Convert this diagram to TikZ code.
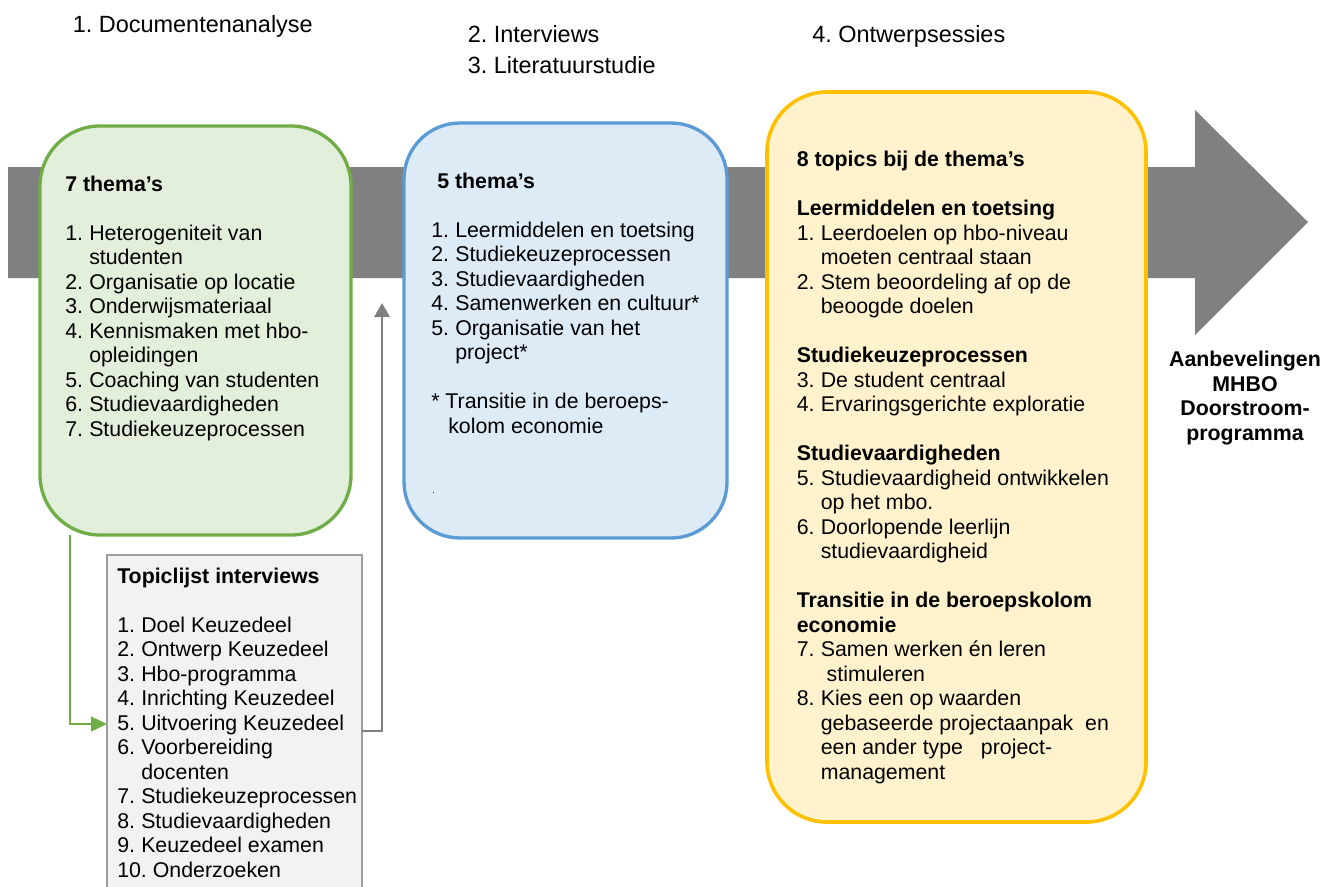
\documentclass[tikz,border=0pt]{standalone}
\usepackage{fontspec}
\setmainfont{Liberation Sans}
\usetikzlibrary{arrows.meta}
\definecolor{grn}{HTML}{70AD47}
\definecolor{grnfill}{HTML}{E2EFDA}
\definecolor{blu}{HTML}{5B9BD5}
\definecolor{blufill}{HTML}{DDEBF7}
\definecolor{ylw}{HTML}{FFC000}
\definecolor{ylwfill}{HTML}{FFF2CC}
\definecolor{arrgray}{HTML}{808080}
\definecolor{topfill}{HTML}{F2F2F2}
\definecolor{topline}{HTML}{9C9C9C}
\newcommand{\nr}[1]{\makebox[18pt][l]{#1}}
\frenchspacing
\begin{document}
\begin{tikzpicture}[x=0.75pt,y=-0.75pt,
  bodyfont/.style={font=\fontsize{16}{18.375}\selectfont},
  txt/.style={anchor=base west, inner sep=0pt, bodyfont},
  toplabel/.style={anchor=base west, inner sep=0pt, font=\fontsize{17.6}{20}\selectfont},
  panel/.style={rectangle, inner sep=0pt, outer sep=0pt},
  conn/.style={line width=1.9pt}]
\useasboundingbox (0,0) rectangle (1333,886);
\clip (0,0) rectangle (1333,886);
\fill[white] (0,0) rectangle (1333,886);

% big process arrow
\fill[arrgray] (8,167) -- (1195,167) -- (1195,110) -- (1308,222) -- (1195,335) -- (1195,278) -- (8,278) -- cycle;

% panels
\node[panel, draw=grn, fill=grnfill, line width=2.5pt, rounded corners=45pt,
      minimum width=233.25pt, minimum height=306.75pt] (green) at (195.5,330.5) {};
\node[panel, draw=blu, fill=blufill, line width=2.5pt, rounded corners=42pt,
      minimum width=242.25pt, minimum height=311.25pt] (blue) at (565.5,330.5) {};
\node[panel, draw=ylw, fill=ylwfill, line width=2.7pt, rounded corners=45pt,
      minimum width=284.25pt, minimum height=547.5pt] (yellow) at (956.5,457) {};
\node[panel, draw=topline, fill=topfill, line width=1.4pt,
      minimum width=191.25pt, minimum height=258.75pt] (topic) at (234.5,727.5) {};

% connectors
\coordinate (gx) at (70,0);
\coordinate (gy) at (0,724);
\coordinate (hy) at (0,731);
\coordinate (gtip) at (382,303);
\draw[grn, conn, -{Triangle[length=12pt,width=11pt]}] (green.south -| gx) |- (topic.west |- gy);
\draw[arrgray, conn, -{Triangle[length=10.5pt,width=11.5pt]}] (topic.east |- hy) -| (gtip);

% top labels
\node[toplabel] (l1) at (72.5,32) {1. Documentenanalyse};
\node[toplabel] (l2) at (467.5,42.7) {2. Interviews};
\node[toplabel] (l3) at (467.5,73.3) {3. Literatuurstudie};
\node[toplabel] (l4) at (812,42.7) {4. Ontwerpsessies};

% green text
\node[txt] (gtxt) at (65,191) {\parbox[t]{400pt}{%
\textbf{7 thema’s}\\
\mbox{}\\
\nr{1.}Heterogeniteit van\\
\nr{}studenten\\
\nr{2.}Organisatie op locatie\\
\nr{3.}Onderwijsmateriaal\\
\nr{4.}Kennismaken met hbo-\\
\nr{}opleidingen\\
\nr{5.}Coaching van studenten\\
\nr{6.}Studievaardigheden\\
\nr{7.}Studiekeuzeprocessen}};

% blue text
\node[txt] (btxt) at (431,188.3) {\parbox[t]{400pt}{%
\hspace*{4.5pt}\textbf{5 thema’s}\\
\mbox{}\\
\nr{1.}Leermiddelen en toetsing\\
\nr{2.}Studiekeuzeprocessen\\
\nr{3.}Studievaardigheden\\
\nr{4.}Samenwerken en cultuur*\\
\nr{5.}Organisatie van het\\
\nr{}project*\\
\mbox{}\\
\mbox{*} Transitie in de beroeps-\\
\hspace*{12.75pt}kolom economie}};
\node[anchor=base west, inner sep=0pt, font=\fontsize{7}{8}\selectfont] (bdot) at (432,493) {.};

% yellow text
\node[txt] (ytxt) at (796.5,166.5) {\parbox[t]{400pt}{%
\textbf{8 topics bij de thema’s}\\
\mbox{}\\
\textbf{Leermiddelen en toetsing}\\
\nr{1.}Leerdoelen op hbo-niveau\\
\nr{}moeten centraal staan\\
\nr{2.}Stem beoordeling af op de\\
\nr{}beoogde doelen\\
\mbox{}\\
\textbf{Studiekeuzeprocessen}\\
\nr{3.}De student centraal\\
\nr{4.}Ervaringsgerichte exploratie\\
\mbox{}\\
\textbf{Studievaardigheden}\\
\nr{5.}Studievaardigheid ontwikkelen\\
\nr{}op het mbo.\\
\nr{6.}Doorlopende leerlijn\\
\nr{}studievaardigheid\\
\mbox{}\\
\textbf{Transitie in de beroepskolom}\\
\textbf{economie}\\
\nr{7.}Samen werken én leren\\
\nr{}\ stimuleren\\
\nr{8.}Kies een op waarden\\
\nr{}gebaseerde projectaanpak\ \ en\\
\nr{}een ander type\hspace{9pt}\ project-\\
\nr{}management}};

% topic list text
\node[txt] (ttxt) at (117,583) {\parbox[t]{400pt}{%
\textbf{Topiclijst interviews}\\
\mbox{}\\
\nr{1.}Doel Keuzedeel\\
\nr{2.}Ontwerp Keuzedeel\\
\nr{3.}Hbo-programma\\
\nr{4.}Inrichting Keuzedeel\\
\nr{5.}Uitvoering Keuzedeel\\
\nr{6.}Voorbereiding\\
\nr{}docenten\\
\nr{7.}Studiekeuzeprocessen\\
\nr{8.}Studievaardigheden\\
\nr{9.}Keuzedeel examen\\
10. Onderzoeken}};

% result label
\node[anchor=base, inner sep=0pt, bodyfont] (result) at (1245,366.7) {\parbox[t]{200pt}{\centering\bfseries
Aanbevelingen\\MHBO\\Doorstroom-\\programma}};
\end{tikzpicture}
\end{document}
